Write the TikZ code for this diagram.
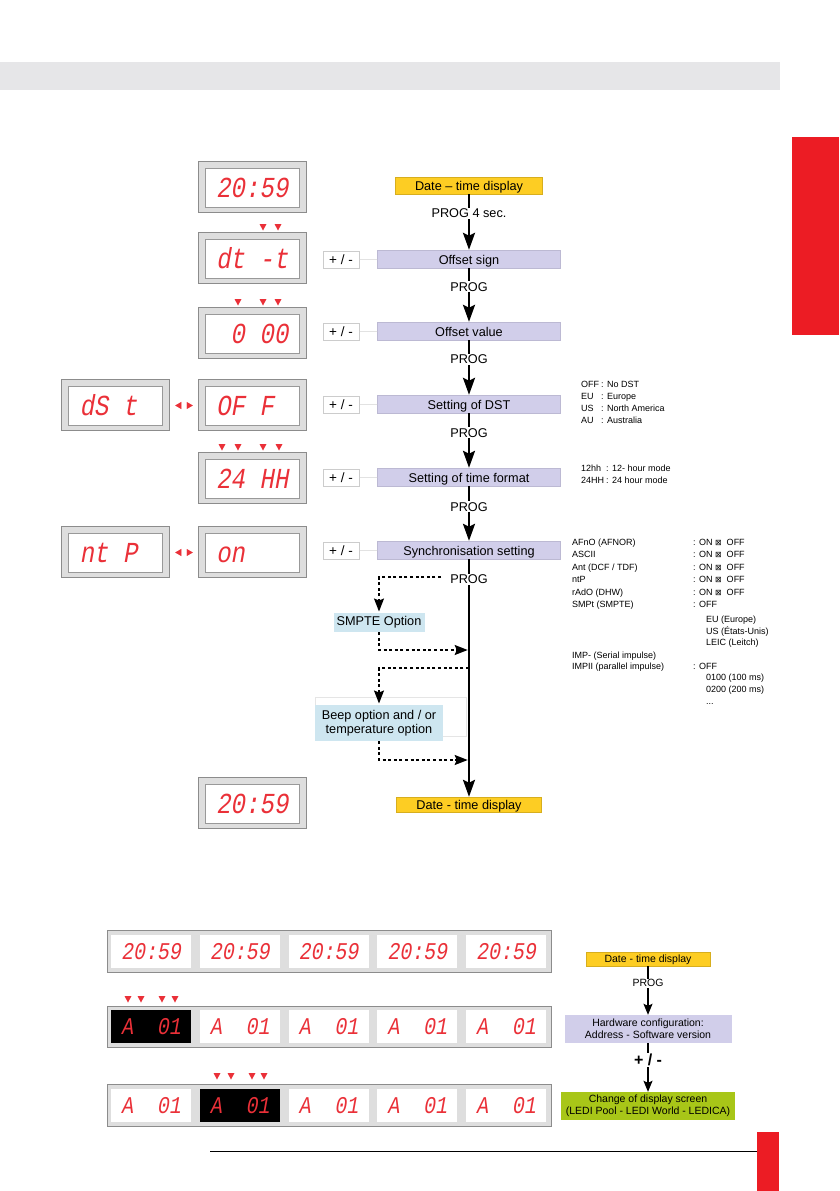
\documentclass[tikz,border=0pt]{standalone}
\usepackage{fontspec}
\setmainfont{Liberation Sans}
\newfontfamily\ledfont[FakeStretch=0.83,FakeSlant=0.18]{Liberation Mono}
\newfontfamily\symfont{DejaVu Sans}
\usepackage{tikz}
\usetikzlibrary{arrows.meta}

\definecolor{hdrgray}{RGB}{230,230,232}
\definecolor{tabred}{RGB}{236,28,36}
\definecolor{ledred}{RGB}{234,48,56}
\definecolor{dateyellow}{RGB}{253,205,35}
\definecolor{steplilac}{RGB}{209,206,234}
\definecolor{optblue}{RGB}{206,230,240}
\definecolor{confgreen}{RGB}{168,198,24}

\tikzset{
  flowfont/.style={font=\fontsize{12.7}{14.5}\selectfont, text height=11.5, text depth=1.5},
  datebox/.style={flowfont, fill=dateyellow, draw=dateyellow!85!black, line width=0.4pt, minimum width=147, minimum height=17, inner sep=0},
  stepbox/.style={flowfont, fill=steplilac, draw=steplilac!90!black, line width=0.4pt, minimum width=183, minimum height=18, inner sep=0},
  keybox/.style={fill=white, draw=gray!40, line width=0.5pt, minimum width=36, minimum height=17, inner sep=0, text height=11, text depth=2, font=\fontsize{13.5}{15}\selectfont},
  keyline/.style={draw=gray!35, line width=0.6pt},
  prog/.style={font=\fontsize{12.7}{14.5}\selectfont, fill=white, inner xsep=7, inner ysep=1},
  flow/.style={line width=2.6pt, -{Stealth[length=17pt, width=12pt, inset=3pt]}},
  opt/.style={line width=1.5pt, dash pattern=on 3pt off 2.6pt, -{Stealth[length=13pt, width=10pt, inset=2pt]}, shorten >=1.3pt},
  optbox/.style={fill=optblue, inner sep=0, font=\fontsize{12.7}{13.5}\selectfont},
  frame/.style={fill=black!13, draw=black!45, line width=0.6pt},
  led/.style={fill=white, draw=black!40, line width=0.5pt, minimum width=94, minimum height=39, inner sep=0, text=ledred, text height=19, text depth=0, font=\fontsize{29}{29}\ledfont},
  cell/.style={fill=white, minimum width=80, minimum height=33, inner sep=0, text=ledred, text height=16, text depth=0, font=\fontsize{24}{24}\ledfont},
  listtxt/.style={anchor=west, inner sep=0, text height=7, text depth=2, font=\fontsize{9}{11}\selectfont},
  toggle/.style={draw=white, line width=0.1pt, {Triangle[length=6pt, width=7pt, color=ledred]}-{Triangle[length=6pt, width=7pt, color=ledred]}},
  smallbox/.style={minimum width=167, minimum height=28, inner sep=0, align=center, font=\fontsize{10.5}{12}\selectfont},
  thinflow/.style={line width=1.3pt, -{Stealth[length=11pt, width=9pt, inset=2pt]}}
}

\newcommand{\ledpanel}[4]{%
  \filldraw[frame] (#2-54,#3-25.5) rectangle (#2+54,#3+25.5);
  \node[led] (#1) at (#2,#3+1) {\makebox[72pt][l]{#4}};
}
\newcommand{\cursor}[2]{\fill[ledred] (#1-3.5,#2-3) -- (#1+3.5,#2-3) -- (#1,#2+3.5) -- cycle;}
\newcommand{\onoff}{: ON~{\symfont\fontsize{8}{9}\selectfont ⊠}~ OFF}

\begin{document}
\begin{tikzpicture}[x=1pt, y=-1pt]
  \useasboundingbox (0,0) rectangle (839,1191);

  \fill[hdrgray] (0,62) rectangle (780,90);
  \fill[tabred] (792,137) rectangle (839,335);

  % displays
  \ledpanel{d1}{252}{187}{20:59}
  \ledpanel{d2}{252}{257.5}{dt~-t}
  \ledpanel{d3}{252}{332.5}{~0~00}
  \ledpanel{dst0}{115.5}{404.5}{dS~t}
  \ledpanel{dst1}{252}{404.5}{OF~F}
  \ledpanel{d5}{252}{478}{24~HH}
  \ledpanel{ntp0}{115.5}{551.5}{nt~P}
  \ledpanel{ntp1}{252}{551.5}{on}
  \ledpanel{d7}{252}{802.5}{20:59}

  \cursor{263}{227} \cursor{278}{227}
  \cursor{238}{302} \cursor{263}{302} \cursor{278}{302}
  \cursor{222}{447} \cursor{238}{447} \cursor{263}{447} \cursor{279}{447}

  \draw[toggle, shorten <=12.5pt, shorten >=12pt] (dst0) -- (dst1);
  \draw[toggle, shorten <=12.5pt, shorten >=12pt] (ntp0) -- (ntp1);

  % main flow
  \node[datebox] (date1) at (469,185.5) {Date -- time display};
  \node[stepbox] (sign) at (469,259) {Offset sign};
  \node[stepbox] (value) at (469,331) {Offset value};
  \node[stepbox] (dst) at (469,404) {Setting of DST};
  \node[stepbox] (fmt) at (469,477) {Setting of time format};
  \node[stepbox] (sync) at (469,550) {Synchronisation setting};
  \node[datebox, minimum width=145, minimum height=15] (date2) at (469,804.5) {Date - time display};

  \node[keybox] (k1) at (341,259.5) {+ / -};
  \node[keybox] (k2) at (341,331.5) {+ / -};
  \node[keybox] (k3) at (341,404.5) {+ / -};
  \node[keybox] (k4) at (341,477.5) {+ / -};
  \node[keybox] (k5) at (341,550.5) {+ / -};
  \draw[keyline] (k1) -- (sign);
  \draw[keyline] (k2) -- (value);
  \draw[keyline] (k3) -- (dst);
  \draw[keyline] (k4) -- (fmt);
  \draw[keyline] (k5) -- (sync);

  \draw[flow] (date1) -- node[prog, pos=0.34] {PROG 4 sec.} (sign);
  \draw[flow] (sign) -- node[prog, pos=0.35] {PROG} (value);
  \draw[flow] (value) -- node[prog, pos=0.35] {PROG} (dst);
  \draw[flow] (dst) -- node[prog, pos=0.36] {PROG} (fmt);
  \draw[flow] (fmt) -- node[prog, pos=0.38] {PROG} (sync);

  % options
  \draw[gray!20, line width=0.5pt] (315,697) rectangle (466,736);
  \node[optbox, minimum width=91, minimum height=19] (smpte) at (379,622.5) {SMPTE Option};
  \node[optbox, minimum width=128, minimum height=36, align=center] (beep) at (379,723) {Beep option and / or\\temperature option};
  \coordinate (tap1) at (469,577);
  \coordinate (join1) at (469,650);
  \coordinate (tap2) at (469,668);
  \coordinate (join2) at (469,760);
  \draw[opt] (tap1) -| (smpte);
  \draw[opt] (smpte) |- (join1);
  \draw[opt] (tap2) -| (beep);
  \draw[opt] (beep) |- (join2);

  \draw[flow] (sync) -- node[prog, pos=0.084] {PROG} (date2);

  % value lists
  \node[listtxt] at (581,385) {OFF};  \node[listtxt] at (601,385) {: No DST};
  \node[listtxt] at (581,397) {EU};   \node[listtxt] at (601,397) {: Europe};
  \node[listtxt] at (581,409) {US};   \node[listtxt] at (601,409) {: North America};
  \node[listtxt] at (581,421) {AU};   \node[listtxt] at (601,421) {: Australia};

  \node[listtxt] at (581,469) {12hh}; \node[listtxt] at (606,469) {: 12- hour mode};
  \node[listtxt] at (581,481) {24HH}; \node[listtxt] at (606,481) {: 24 hour mode};

  \node[listtxt] at (572,543) {AFnO (AFNOR)};    \node[listtxt] at (693,543) {\onoff};
  \node[listtxt] at (572,555) {ASCII};           \node[listtxt] at (693,555) {\onoff};
  \node[listtxt] at (572,568) {Ant (DCF / TDF)}; \node[listtxt] at (693,568) {\onoff};
  \node[listtxt] at (572,580) {ntP};             \node[listtxt] at (693,580) {\onoff};
  \node[listtxt] at (572,593) {rAdO (DHW)};      \node[listtxt] at (693,593) {\onoff};
  \node[listtxt] at (572,605) {SMPt (SMPTE)};    \node[listtxt] at (693,605) {: OFF};
  \node[listtxt] at (706,620) {EU (Europe)};
  \node[listtxt] at (706,632) {US (États-Unis)};
  \node[listtxt] at (706,643) {LEIC (Leitch)};
  \node[listtxt] at (572,656) {IMP- (Serial impulse)};
  \node[listtxt] at (572,667) {IMPII (parallel impulse)}; \node[listtxt] at (693,667) {: OFF};
  \node[listtxt] at (706,678) {0100 (100 ms)};
  \node[listtxt] at (706,690) {0200 (200 ms)};
  \node[listtxt] at (706,702) {...};

  % screen selection
  \filldraw[frame] (107,930) rectangle (551,972);
  \filldraw[frame] (107,1006) rectangle (551,1047);
  \filldraw[frame] (107,1084) rectangle (551,1126);
  \foreach \i in {0,...,4} {
    \node[cell] (top\i) at (151+88.75*\i,951) {20:59};
    \node[cell] (mid\i) at (151+88.75*\i,1026.5) {A~~01};
    \node[cell] (low\i) at (151+88.75*\i,1105) {A~~01};
  }
  \node[cell, fill=black] at (mid0) {A~~01};
  \node[cell, fill=black] at (low1) {A~~01};
  \cursor{128}{999} \cursor{141}{999} \cursor{162}{999} \cursor{175}{999}
  \cursor{217}{1076} \cursor{231}{1076} \cursor{252}{1076} \cursor{264}{1076}

  \node[datebox, minimum width=124, minimum height=14, font=\fontsize{10.5}{12}\selectfont, text height=9, text depth=1.5] (date3) at (648,959) {Date - time display};
  \node[smallbox, fill=steplilac] (hw) at (648,1029) {Hardware configuration:\\Address - Software version};
  \node[smallbox, fill=confgreen, minimum width=174] (screen) at (648,1106) {Change of display screen\\(LEDI Pool - LEDI World - LEDICA)};
  \draw[thinflow] (date3) -- node[fill=white, inner sep=1, font=\fontsize{10.5}{12}\selectfont, pos=0.35] {PROG} (hw);
  \draw[thinflow] (hw) -- node[fill=white, inner sep=1, font=\bfseries\fontsize{16}{17}\selectfont, pos=0.35] {+ / -} (screen);

  \draw[line width=0.6pt] (210,1151) -- (757,1151);
  \fill[tabred] (757,1132) rectangle (779,1191);
\end{tikzpicture}
\end{document}
